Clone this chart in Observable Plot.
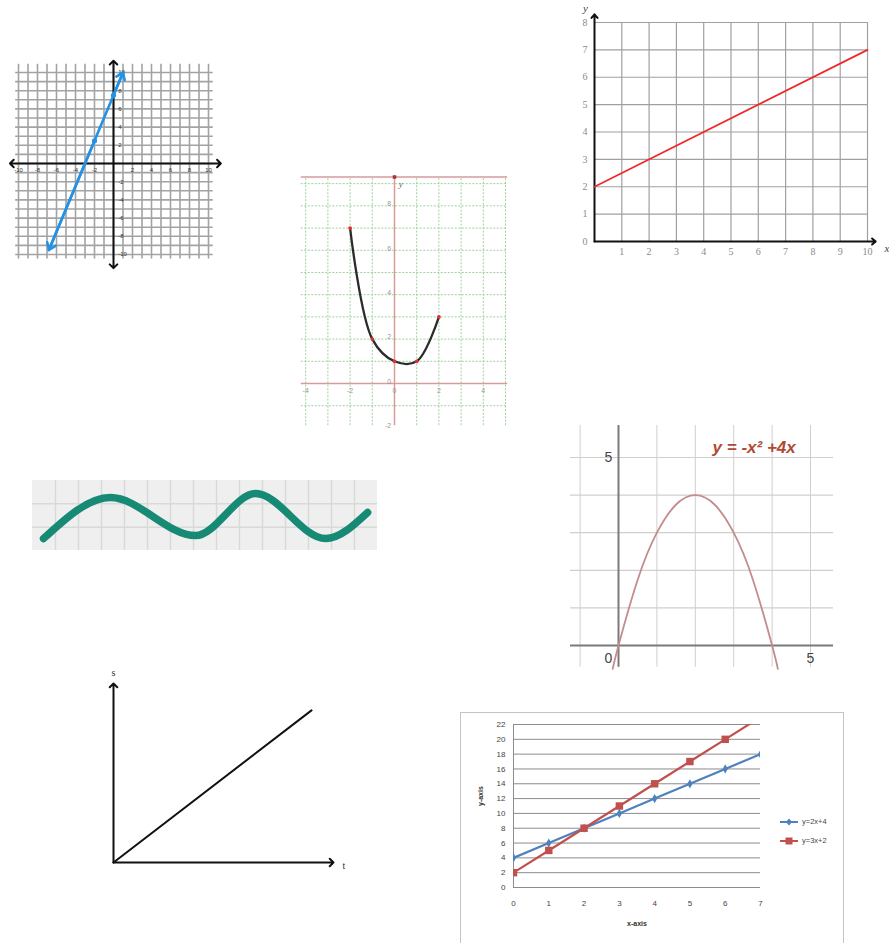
<!DOCTYPE html>
<html>
<head>
<meta charset="utf-8">
<script src="https://cdn.jsdelivr.net/npm/d3@7"></script>
<script src="https://cdn.jsdelivr.net/npm/@observablehq/plot@0.6"></script>
<style>
  body { margin: 0; background: #fff; }
  #root { position: relative; width: 889px; height: 943px; overflow: hidden; background: #fff;
          font-family: "Liberation Sans", Arial, sans-serif; }
  .panel { position: absolute; }
  .panel svg { background: transparent !important; overflow: visible; max-width: none !important; }
  #boxG { position: absolute; left: 460px; top: 712px; width: 384px; height: 240px;
          border: 1px solid #c4c4c4; box-sizing: border-box; }
  #legendG { position: absolute; left: 779px; top: 812px; font-size: 7.5px; color: #444; line-height: 19px; }
  #legendG .item { display: flex; align-items: center; height: 19px; }
  #legendG svg { margin-right: 3px; }
</style>
</head>
<body>
<div id="root"></div>
<script>
// ---------- DATA ----------
// Panel A: straight line with arrows on a -10..10 grid
const A_tickLabels = [-10, -8, -6, -4, -2, 2, 4, 6, 8, 10];
const A_lineX = [-6.8, -2, 0, 1];
const A_lineY = [-9.5, 2.5, 7.5, 10];
const A_dotX = [-2, 0];
const A_dotY = [2.5, 7.5];

// Panel B: curve through red points
const B_x = [-2, -1, 0, 1, 2];
const B_y = [7, 2, 1, 1, 3];
const B_xTicks = [-4, -2, 0, 2, 4];
const B_yTicks = [-2, 0, 2, 4, 6, 8];

// Panel C: red line from (0,2) to (10,7)
const C_x = [0, 10];
const C_y = [2, 7];
const C_xTicks = [1, 2, 3, 4, 5, 6, 7, 8, 9, 10];
const C_yTicks = [0, 1, 2, 3, 4, 5, 6, 7, 8];

// Panel D: teal wave on a grey grid
const D_x = [0.48, 3.39, 7.09, 9.70, 12.74, 14.57];
const D_y = [0.51, 2.27, 0.64, 2.44, 0.51, 1.63];

// Panel E: y = -x^2 + 4x
const E_x = [-0.15, 0, 0.5, 1, 1.5, 2, 2.5, 3, 3.5, 4, 4.15];
const E_y = [-0.62, 0, 1.75, 3, 3.75, 4, 3.75, 3, 1.75, 0, -0.62];
const E_title = "y = -x\u00b2 +4x";

// Panel F: s against t
const F_x = [0, 9];
const F_y = [0, 8.5];
const F_labels = ["s", "t"];

// Panel G: two linear series
const G_x = [0, 1, 2, 3, 4, 5, 6, 7];
const G_blue = [4, 6, 8, 10, 12, 14, 16, 18];
const G_red = [2, 5, 8, 11, 14, 17, 20, 23];
const G_names = ["y=2x+4", "y=3x+2"];
const G_yTicks = [0, 2, 4, 6, 8, 10, 12, 14, 16, 18, 20, 22];

// ---------- HELPERS ----------
const root = document.getElementById("root");
function place(svg, left, top, w, h) {
  const d = document.createElement("div");
  d.className = "panel";
  Object.assign(d.style, {left: left + "px", top: top + "px", width: w + "px", height: h + "px"});
  d.appendChild(svg);
  root.appendChild(d);
}
const zip = (xs, ys) => xs.map((x, i) => ({x, y: ys[i]}));
const ints = (a, b) => d3.range(a, b + 1);
const sans = "Liberation Sans, Arial, sans-serif";
const serif = "Liberation Serif, DejaVu Serif, serif";

// ---------- PANEL A ----------
{
  const blue = "#2492e4";
  const pts = zip(A_lineX, A_lineY);
  const axes = [
    {x1: 0, y1: 0, x2: -10.9, y2: 0}, {x1: 0, y1: 0, x2: 11.3, y2: 0},
    {x1: 0, y1: 0, x2: 0, y2: 11.3}, {x1: 0, y1: 0, x2: 0, y2: -11.5}
  ];
  const ends = [
    {x1: pts[1].x, y1: pts[1].y, x2: pts[0].x, y2: pts[0].y},
    {x1: pts[2].x, y1: pts[2].y, x2: pts[3].x, y2: pts[3].y}
  ];
  place(Plot.plot({
    width: 230, height: 230, margin: 0,
    style: {fontFamily: sans, background: "transparent"},
    x: {domain: [-10, 10], range: [18, 208], axis: null},
    y: {domain: [-10, 10], range: [199, 17], axis: null},
    marks: [
      Plot.ruleX(ints(-10, 10), {x: d => d, y1: -10.5, y2: 10.9, stroke: "#a3a3a3", strokeWidth: 1.6}),
      Plot.ruleY(ints(-10, 10), {y: d => d, x1: -10.3, x2: 10.5, stroke: "#a3a3a3", strokeWidth: 1.6}),
      Plot.arrow(axes, {x1: "x1", y1: "y1", x2: "x2", y2: "y2", stroke: "#111", strokeWidth: 2, headLength: 4, headAngle: 90}),
      Plot.text(A_tickLabels, {x: d => d, y: -0.75, text: d => String(d), fontSize: 6, fill: "#333"}),
      Plot.text(A_tickLabels, {x: 0.5, y: d => d, text: d => String(d), textAnchor: "start", fontSize: 6, fill: "#333"}),
      Plot.line(pts, {x: "x", y: "y", stroke: blue, strokeWidth: 2.6}),
      Plot.arrow(ends, {x1: "x1", y1: "y1", x2: "x2", y2: "y2", stroke: blue, strokeWidth: 2.6, headLength: 4.5, headAngle: 70}),
      Plot.dot(zip(A_dotX, A_dotY), {x: "x", y: "y", r: 2.6, fill: blue})
    ]
  }), 0, 55, 230, 230);
}

// ---------- PANEL B ----------
{
  const green = "#9fd09f", pink = "#d99a9a";
  place(Plot.plot({
    width: 215, height: 260, margin: 0,
    style: {fontFamily: sans, background: "transparent"},
    x: {domain: [-4, 5], range: [10.2, 210], axis: null},
    y: {domain: [-2, 9.3], range: [257.4, 6.5], axis: null},
    marks: [
      Plot.ruleX(ints(-4, 5).filter(d => d !== 0), {x: d => d, y1: -1.9, y2: 9.3, stroke: green, strokeWidth: 1, strokeDasharray: "2,1.5"}),
      Plot.ruleY(ints(-1, 9).filter(d => d !== 0), {y: d => d, x1: -4.2, x2: 5.1, stroke: green, strokeWidth: 1, strokeDasharray: "2,1.5"}),
      Plot.ruleY([0, 9.3], {y: d => d, x1: -4.2, x2: 5.1, stroke: pink, strokeWidth: 1.5}),
      Plot.ruleX([0], {x: d => d, y1: -1.9, y2: 9.3, stroke: pink, strokeWidth: 1.5}),
      Plot.dot([0], {x: 0, y: 9.3, r: 2, symbol: "square", fill: "#a33"}),
      Plot.text(B_yTicks, {x: -0.15, y: d => d, dy: -2, text: d => String(d), textAnchor: "end", fontSize: 7, fill: "#999"}),
      Plot.text(B_xTicks, {x: d => d, y: -0.32, text: d => String(d), fontSize: 7, fill: "#999"}),
      Plot.text(["y"], {x: 0.28, y: 9.0, text: d => d, fontSize: 9, fontStyle: "italic", fill: "#666", fontFamily: serif}),
      Plot.line(zip(B_x, B_y), {x: "x", y: "y", curve: "catmull-rom", stroke: "#2b2b2b", strokeWidth: 2.3}),
      Plot.dot(zip(B_x, B_y), {x: "x", y: "y", r: 1.9, fill: "#e23030"})
    ]
  }), 295, 170, 215, 260);
}

// ---------- PANEL C ----------
{
  const axes = [{x1: 0, y1: 0, x2: 0, y2: 8.3}, {x1: 0, y1: 0, x2: 10.3, y2: 0}];
  place(Plot.plot({
    width: 319, height: 265, margin: 0,
    style: {fontFamily: serif, background: "transparent"},
    x: {domain: [0, 10], range: [24, 297], axis: null},
    y: {domain: [0, 8], range: [241, 22], axis: null},
    marks: [
      Plot.ruleX(ints(1, 10), {x: d => d, y1: 0, y2: 8, stroke: "#a0a0a0", strokeWidth: 1.2}),
      Plot.ruleY(ints(1, 8), {y: d => d, x1: 0, x2: 10, stroke: "#a0a0a0", strokeWidth: 1.2}),
      Plot.arrow(axes, {x1: "x1", y1: "y1", x2: "x2", y2: "y2", stroke: "#111", strokeWidth: 2, headLength: 3.5, headAngle: 80}),
      Plot.text(C_yTicks, {x: -0.35, y: d => d, text: d => String(d), fontSize: 10, fill: "#8a8a8a"}),
      Plot.text(C_xTicks, {x: d => d, y: -0.36, text: d => String(d), fontSize: 10, fill: "#8a8a8a"}),
      Plot.text(["y"], {x: -0.33, y: 8.5, text: d => d, fontSize: 11, fontStyle: "italic", fill: "#444"}),
      Plot.text(["x"], {x: 10.8, y: -0.25, text: d => d, textAnchor: "end", fontSize: 11, fontStyle: "italic", fill: "#444"}),
      Plot.line(zip(C_x, C_y), {x: "x", y: "y", stroke: "#ee2a2a", strokeWidth: 1.7})
    ]
  }), 570, 0, 319, 265);
}

// ---------- PANEL D ----------
place(Plot.plot({
  width: 360, height: 140, margin: 0,
  style: {background: "transparent"},
  x: {domain: [0, 15], range: [7, 352], axis: null},
  y: {domain: [0, 3], range: [110, 40], axis: null},
  marks: [
    Plot.rect([0], {x1: 0, x2: 15, y1: 0, y2: 3, fill: "#efefef"}),
    Plot.ruleX(ints(1, 14), {x: d => d, y1: 0, y2: 3, stroke: "#d9d9d9", strokeWidth: 1.5}),
    Plot.ruleY([1, 2], {y: d => d, x1: 0, x2: 15, stroke: "#d9d9d9", strokeWidth: 1.5}),
    Plot.line(zip(D_x, D_y), {x: "x", y: "y", curve: "monotone-x", stroke: "#178a76", strokeWidth: 7.5, strokeLinecap: "round"})
  ]
}), 25, 440, 360, 140);

// ---------- PANEL E ----------
place(Plot.plot({
  width: 329, height: 260, margin: 0,
  style: {fontFamily: sans, background: "transparent"},
  x: {domain: [0, 5], range: [58, 250], axis: null},
  y: {domain: [0, 5], range: [225, 37], axis: null},
  marks: [
    Plot.ruleX([-1, 1, 2, 3, 4, 5], {x: d => d, y1: -0.58, y2: 5.85, stroke: "#cfcfcf", strokeWidth: 1}),
    Plot.ruleY([1, 2, 3, 4, 5], {y: d => d, x1: -1.25, x2: 5.6, stroke: "#cfcfcf", strokeWidth: 1.2}),
    Plot.ruleX([0], {x: d => d, y1: -0.58, y2: 5.85, stroke: "#7a7a7a", strokeWidth: 2}),
    Plot.ruleY([0], {y: d => d, x1: -1.25, x2: 5.6, stroke: "#7a7a7a", strokeWidth: 2}),
    Plot.text([5], {x: 0, y: d => d, dx: -10, text: d => String(d), fontSize: 14, fill: "#444"}),
    Plot.text([0], {x: d => d, y: 0, dx: -10, dy: 13, text: d => String(d), fontSize: 14, fill: "#444"}),
    Plot.text([5], {x: d => d, y: 0, dy: 13, text: d => String(d), fontSize: 14, fill: "#444"}),
    Plot.text([E_title], {x: 2.45, y: 5.27, text: d => d, textAnchor: "start", fontSize: 17, fontWeight: "bold", fontStyle: "italic", fill: "#b04a35"}),
    Plot.line(zip(E_x, E_y), {x: "x", y: "y", curve: "natural", stroke: "#c48c8c", strokeWidth: 1.8})
  ]
}), 560, 420, 329, 260);

// ---------- PANEL F ----------
{
  const axes = [{x1: 0, y1: 0, x2: 10, y2: 0}, {x1: 0, y1: 0, x2: 0, y2: 10}];
  place(Plot.plot({
    width: 270, height: 220, margin: 0,
    style: {fontFamily: serif, background: "transparent"},
    x: {domain: [0, 10], range: [23, 243], axis: null},
    y: {domain: [0, 10], range: [192, 13], axis: null},
    marks: [
      Plot.arrow(axes, {x1: "x1", y1: "y1", x2: "x2", y2: "y2", stroke: "#111", strokeWidth: 2, headLength: 4, headAngle: 90}),
      Plot.line(zip(F_x, F_y), {x: "x", y: "y", stroke: "#111", strokeWidth: 2}),
      Plot.text([F_labels[0]], {x: 0, y: 10.6, text: d => d, fontSize: 10, fill: "#333"}),
      Plot.text([F_labels[1]], {x: 10.47, y: -0.17, text: d => d, fontSize: 10, fill: "#333"})
    ]
  }), 90, 670, 270, 220);
}

// ---------- PANEL G ----------
{
  const box = document.createElement("div");
  box.id = "boxG";
  root.appendChild(box);
  const colors = ["#4f81bd", "#c0504d"];
  const blue = zip(G_x, G_blue), red = zip(G_x, G_red);
  place(Plot.plot({
    width: 439, height: 238,
    marginLeft: 63, marginRight: 129, marginTop: 19, marginBottom: 56,
    style: {fontFamily: sans, background: "transparent"},
    x: {domain: [0, 7]},
    y: {domain: [0, 22]},
    marks: [
      Plot.ruleY(G_yTicks, {stroke: "#8c8c8c", strokeWidth: 1}),
      Plot.ruleX([0], {stroke: "#8c8c8c", strokeWidth: 1}),
      Plot.axisY({ticks: G_yTicks, tickFormat: d => String(d), tickSize: 0, tickPadding: 8, fontSize: 8, color: "#444", label: null}),
      Plot.axisX({ticks: G_x, tickFormat: d => String(d), tickSize: 0, tickPadding: 13, fontSize: 8, color: "#444", label: null}),
      Plot.text(["y-axis"], {frameAnchor: "left", dx: -33, rotate: -90, fontSize: 7, fontWeight: "bold", fill: "#333"}),
      Plot.text(["x-axis"], {frameAnchor: "bottom", dy: 38, fontSize: 7, fontWeight: "bold", fill: "#333"}),
      Plot.line(blue, {x: "x", y: "y", stroke: colors[0], strokeWidth: 2.2, clip: true}),
      Plot.line(red, {x: "x", y: "y", stroke: colors[1], strokeWidth: 2.2, clip: true}),
      Plot.dot(blue, {x: "x", y: "y", symbol: "diamond", r: 2.8, fill: colors[0], clip: true}),
      Plot.dot(red, {x: "x", y: "y", symbol: "square", r: 4.2, fill: colors[1], clip: true})
    ]
  }), 450, 705, 439, 238);

  const legend = document.createElement("div");
  legend.id = "legendG";
  const symbols = ["diamond", "square"];
  G_names.forEach((name, i) => {
    const item = document.createElement("div");
    item.className = "item";
    const ns = "http://www.w3.org/2000/svg";
    const s = document.createElementNS(ns, "svg");
    s.setAttribute("width", 20); s.setAttribute("height", 10);
    const l = document.createElementNS(ns, "line");
    Object.entries({x1: 1, x2: 19, y1: 5, y2: 5, stroke: colors[i], "stroke-width": 2}).forEach(([k, v]) => l.setAttribute(k, v));
    const p = document.createElementNS(ns, "path");
    p.setAttribute("d", symbols[i] === "square" ? "M6.5,1.5h7v7h-7z" : "M10,1.5l3,3.5l-3,3.5l-3,-3.5z");
    p.setAttribute("fill", colors[i]);
    s.appendChild(l); s.appendChild(p);
    item.appendChild(s);
    item.appendChild(document.createTextNode(name));
    legend.appendChild(item);
  });
  root.appendChild(legend);
}
</script>
</body>
</html>
